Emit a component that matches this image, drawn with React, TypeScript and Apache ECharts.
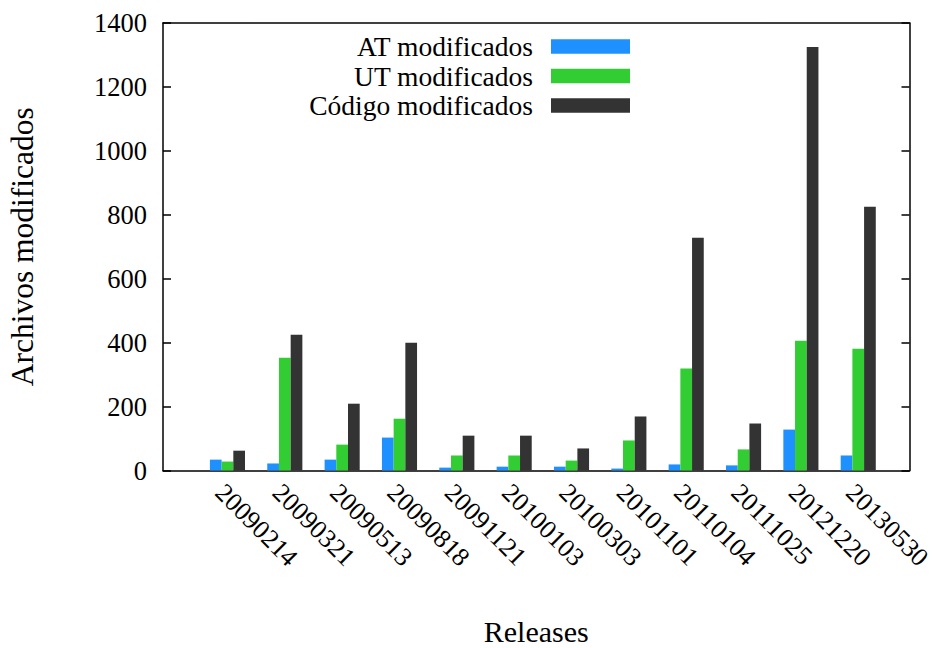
import React, { useEffect, useRef } from "react";
import * as echarts from "echarts";

const categories = [
  "20090214", "20090321", "20090513", "20090818", "20091121", "20100103",
  "20100303", "20101101", "20110104", "20111025", "20121220", "20130530",
];
const atValues = [34, 22, 34, 103, 9, 12, 12, 6, 19, 16, 128, 47];
const utValues = [28, 353, 81, 162, 47, 47, 31, 94, 319, 66, 406, 381];
const codeValues = [62, 425, 209, 400, 109, 109, 69, 169, 728, 147, 1325, 825];
const seriesNames = ["AT modificados", "UT modificados", "Código modificados"];
const colors = ["#1e90ff", "#32cd32", "#333333"];

const FONT = "Liberation Serif";

export default function App() {
  const ref = useRef<HTMLDivElement>(null);
  useEffect(() => {
    if (!ref.current) return;
    const chart = echarts.init(ref.current, null, { renderer: "svg" });
    const top = 23;
    const height = 447.5;
    const lineStyle = { color: "#000", width: 1.5 };
    const gridBase = { top, height, outerBoundsMode: "none", containLabel: false };
    chart.setOption({
      animation: false,
      backgroundColor: "#fff",
      textStyle: { fontFamily: FONT, color: "#000" },
      grid: [
        { ...gridBase, left: 163, width: 746.5 },
        { ...gridBase, left: 198.8, width: 688.1 },
        { ...gridBase, left: 191.1, width: 688.1 },
      ],
      legend: {
        data: seriesNames,
        orient: "vertical",
        align: "right",
        right: 302,
        top: 31.8,
        padding: 0,
        itemGap: 0,
        itemWidth: 79,
        itemHeight: 14.5,
        icon: "rect",
        textStyle: {
          fontFamily: FONT,
          fontSize: 27.5,
          color: "#000",
          lineHeight: 29.5,
          padding: [0, 13, 0, 0],
        },
      },
      xAxis: [
        {
          gridIndex: 0,
          type: "value",
          position: "bottom",
          min: 0,
          max: 1,
          axisLine: { show: true, onZero: false, lineStyle },
          axisTick: { show: false },
          axisLabel: { show: false },
          splitLine: { show: false },
          name: "Releases",
          nameLocation: "middle",
          nameGap: 161,
          nameTextStyle: {
            fontFamily: FONT,
            fontSize: 30,
            color: "#000",
            verticalAlign: "middle",
            lineHeight: 26,
          },
        },
        {
          gridIndex: 0,
          type: "value",
          position: "top",
          min: 0,
          max: 1,
          axisLine: { show: true, onZero: false, lineStyle },
          axisTick: { show: false },
          axisLabel: { show: false },
          splitLine: { show: false },
        },
        {
          gridIndex: 1,
          type: "category",
          data: categories,
          axisLine: { show: false },
          axisTick: { show: false },
          axisLabel: { show: false },
          splitLine: { show: false },
        },
        {
          gridIndex: 2,
          type: "category",
          data: categories,
          axisLine: { show: false },
          axisTick: { show: false },
          axisLabel: {
            show: true,
            interval: 0,
            rotate: -45,
            margin: 17.8,
            fontFamily: FONT,
            fontSize: 26,
            color: "#000",
          },
          splitLine: { show: false },
        },
      ],
      yAxis: [
        {
          gridIndex: 0,
          type: "value",
          position: "left",
          min: 0,
          max: 1400,
          interval: 200,
          axisLine: { show: true, onZero: false, lineStyle },
          axisTick: { show: true, inside: true, length: 8, lineStyle },
          axisLabel: {
            margin: 16,
            fontFamily: FONT,
            fontSize: 26.5,
            color: "#000",
            formatter: (v: number) => String(v),
          },
          splitLine: { show: false },
          name: "Archivos modificados",
          nameLocation: "middle",
          nameGap: 125,
          nameTextStyle: { fontFamily: FONT, fontSize: 31.5, color: "#000" },
        },
        {
          gridIndex: 0,
          type: "value",
          position: "right",
          min: 0,
          max: 1400,
          interval: 200,
          axisLine: { show: true, onZero: false, lineStyle },
          axisTick: { show: true, inside: true, length: 8, lineStyle },
          axisLabel: { show: false },
          splitLine: { show: false },
        },
        { gridIndex: 1, type: "value", min: 0, max: 1400, show: false },
        { gridIndex: 2, type: "value", min: 0, max: 1400, show: false },
      ],
      series: [atValues, utValues, codeValues].map((vals, i) => ({
        type: "bar",
        name: seriesNames[i],
        xAxisIndex: 2,
        yAxisIndex: 2,
        data: vals,
        barWidth: 11.7,
        barGap: "0%",
        itemStyle: { color: colors[i] },
      })),
    });
    return () => chart.dispose();
  }, []);
  return (
    <div
      ref={ref}
      style={{ position: "fixed", left: 0, top: 0, width: 932, height: 648 }}
    />
  );
}
